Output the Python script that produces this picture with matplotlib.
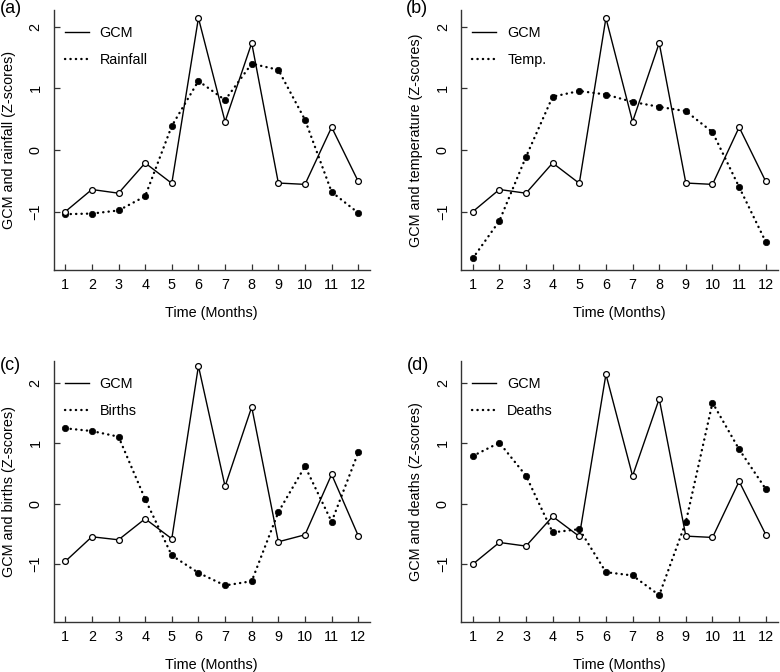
import matplotlib
matplotlib.use("Agg")
import matplotlib.pyplot as plt

plt.rcParams['font.family'] = ['Liberation Sans', 'DejaVu Sans']

months = list(range(1, 13))

gcm = [-1.00, -0.64, -0.70, -0.21, -0.54, 2.14, 0.46, 1.735, -0.535, -0.557, 0.37, -0.51]
gcm_births = [-0.954, -0.546, -0.596, -0.248, -0.579, 2.278, 0.287, 1.60, -0.629, -0.513, 0.485, -0.53]

rainfall = [-1.04, -1.03, -0.98, -0.75, 0.39, 1.12, 0.81, 1.40, 1.30, 0.49, -0.68, -1.02]
temp = [-1.757, -1.15, -0.11, 0.865, 0.957, 0.90, 0.78, 0.70, 0.63, 0.29, -0.60, -1.49]
births = [1.247, 1.202, 1.109, 0.077, -0.855, -1.142, -1.351, -1.28, -0.138, 0.618, -0.298, 0.849]
deaths = [0.789, 1.009, 0.463, -0.474, -0.42, -1.131, -1.186, -1.511, -0.303, 1.671, 0.899, 0.243]

panel_tags = ['(a)', '(b)', '(c)', '(d)']
series_names = ['Rainfall', 'Temp.', 'Births', 'Deaths']
ylabels = ['GCM and rainfall (Z-scores)', 'GCM and temperature (Z-scores)',
           'GCM and births (Z-scores)', 'GCM and deaths (Z-scores)']
yticks = [-1, 0, 1, 2]

W, H = 780, 672
fig = plt.figure(figsize=(W / 100, H / 100), dpi=100)

# panel geometry in pixels: left, top, right, bottom
boxes = [(53.5, 10, 370, 270), (461, 10, 777.5, 270),
         (53.5, 361, 370, 621.7), (461, 361, 777.5, 621.7)]
ylims = [(-1.945, 2.27), (-1.945, 2.27), (-1.95, 2.36), (-1.95, 2.36)]
tag_pos = [(0, 0), (406, 0), (0, 357), (407, 357)]

gcms = [gcm, gcm, gcm_births, gcm]
others = [rainfall, temp, births, deaths]

FS = 10.4
axcol = '#333333'

for i in range(4):
    l, t, r, b = boxes[i]
    ax = fig.add_axes([l / W, 1 - b / H, (r - l) / W, (b - t) / H])
    ax.plot(months, gcms[i], color='black', lw=1.0, ls='-', marker='o',
            ms=4.2, mfc='white', mec='black', mew=0.9, label='GCM', zorder=3)
    ax.plot(months, others[i], color='black', lw=1.7, ls=(0, (0.1, 2.2)),
            marker='o', ms=4.6, mfc='black', mec='black', mew=0.5,
            label=series_names[i], zorder=2, dash_capstyle='round')
    ax.set_xlim(0.56, 12.44)
    ax.set_ylim(*ylims[i])
    ax.set_xticks(months)
    ax.set_yticks(yticks)
    ax.set_yticklabels([('\u2212' + str(-v)) if v < 0 else str(v) for v in yticks])
    for s in ['top', 'right']:
        ax.spines[s].set_visible(False)
    for s in ['left', 'bottom']:
        ax.spines[s].set_color(axcol)
        ax.spines[s].set_linewidth(1.0)
    ax.tick_params(direction='in', length=4.3, width=0.9, color=axcol,
                   labelsize=FS, pad=6)
    ax.tick_params(axis='y', labelrotation=90, pad=8)
    for lab in ax.get_yticklabels():
        lab.set_va('center')
    ax.set_xlabel('Time (Months)', fontsize=FS, labelpad=10)
    ax.set_ylabel(ylabels[i], fontsize=FS, labelpad=9)
    leg = ax.legend(loc='upper left', bbox_to_anchor=(0.018, 0.96), frameon=False,
                    fontsize=FS, handlelength=1.65, handletextpad=0.75,
                    labelspacing=0.9, borderaxespad=0)
    for h in leg.get_lines():
        h.set_marker('')
    fig.text(tag_pos[i][0] / W, 1 - tag_pos[i][1] / H, panel_tags[i],
             fontsize=13, ha='left', va='top')

fig.savefig('out.png', dpi=100)
